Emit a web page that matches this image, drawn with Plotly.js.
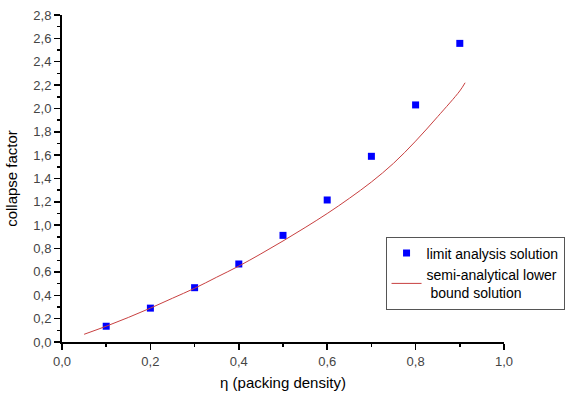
<!DOCTYPE html>
<html>
<head>
<meta charset="utf-8">
<script src="https://cdn.plot.ly/plotly-3.0.1.min.js"></script>
<style>html,body{margin:0;padding:0;background:#fff;}#chart{width:569px;height:394px;}</style>
</head>
<body>
<div id="chart"></div>
<script>
// limit analysis solution (points)
var etaPoints = [0.1, 0.2, 0.3, 0.4, 0.5, 0.6, 0.7, 0.8, 0.9];
var limitAnalysis = [0.135, 0.29, 0.465, 0.668, 0.913, 1.216, 1.59, 2.03, 2.557];

// semi-analytical lower bound solution (curve)
var etaCurve = [0.05, 0.1, 0.15, 0.2, 0.25, 0.3, 0.35, 0.4, 0.45, 0.5, 0.55, 0.6, 0.65, 0.7, 0.75, 0.8, 0.85, 0.9, 0.912];
var lowerBound = [0.066, 0.135, 0.21, 0.29, 0.375, 0.46, 0.555, 0.65, 0.755, 0.865, 0.98, 1.10, 1.23, 1.37, 1.53, 1.72, 1.93, 2.15, 2.22];

var xTitle = "\u03b7 (packing density)";
var yTitle = "collapse factor";
var legendNames = ["limit analysis solution", "semi-analytical lower<br> bound solution"];

var traces = [
  {x: etaPoints, y: limitAnalysis, type: "scatter", mode: "markers", name: legendNames[0],
   marker: {symbol: "square", size: 7, color: "#0000ff"}},
  {x: etaCurve, y: lowerBound, type: "scatter", mode: "lines", name: legendNames[1],
   line: {color: "#c84040", width: 1, shape: "spline"}}
];

var tickFont = {family: "Liberation Sans, Arial, sans-serif", size: 13, color: "#444"};
var layout = {
  width: 569, height: 394,
  margin: {l: 62, r: 65, t: 15, b: 52, autoexpand: false},
  paper_bgcolor: "#fff", plot_bgcolor: "#fff",
  separators: ", ",
  showlegend: true,
  font: {family: "Liberation Sans, Arial, sans-serif", size: 12, color: "#000"},
  xaxis: {
    range: [0, 1.0], dtick: 0.2, tick0: 0, tickformat: ".1f",
    showgrid: false, zeroline: false, showline: true, linecolor: "#000", linewidth: 2,
    ticks: "outside", ticklen: 6, tickwidth: 1.5, tickcolor: "#000",
    minor: {dtick: 0.1, ticks: "outside", ticklen: 3, tickwidth: 1.5, tickcolor: "#000", showgrid: false},
    tickfont: tickFont, automargin: false,
    title: {text: xTitle, font: {size: 15, color: "#000"}, standoff: 10}
  },
  yaxis: {
    range: [0, 2.8], dtick: 0.2, tick0: 0, tickformat: ".1f",
    showgrid: false, zeroline: false, showline: true, linecolor: "#000", linewidth: 2,
    ticks: "outside", ticklen: 6, tickwidth: 1.5, tickcolor: "#000",
    minor: {dtick: 0.1, ticks: "outside", ticklen: 3, tickwidth: 1.5, tickcolor: "#000", showgrid: false},
    tickfont: tickFont, automargin: false,
    title: {text: yTitle, font: {size: 15, color: "#000"}, standoff: 12}
  },
  legend: {
    x: 0.732, y: 0.211, xanchor: "left", yanchor: "middle",
    bgcolor: "#fff", bordercolor: "#555", borderwidth: 1,
    font: {size: 14, color: "#000"},
    tracegroupgap: 0, itemwidth: 30
  }
};

Plotly.newPlot("chart", traces, layout, {staticPlot: true, displayModeBar: false});
</script>
</body>
</html>
